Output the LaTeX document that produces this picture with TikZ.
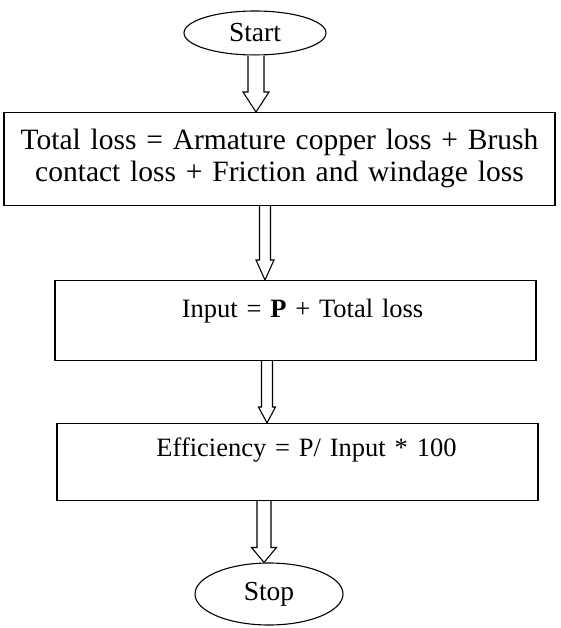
\documentclass[tikz,border=0pt]{standalone}
\usepackage{fontspec}
\setmainfont{Liberation Serif}
\usetikzlibrary{shapes.geometric,calc}
\tikzset{
  outline/.style={draw=black, line width=1.1pt},
  terminal/.style={outline, ellipse, inner sep=0pt, font=\fontsize{27.5}{32}\selectfont},
  stepbox/.style={outline, rectangle, inner xsep=0pt, inner ysep=0pt, align=center, font=\fontsize{26.5}{32}\selectfont},
  hollow/.style={draw=black, line width=1.1pt, fill=white, line join=miter}
}
\newcommand{\harrow}[5]{%
  \draw[hollow] ($#1+(-#3,0)$) -- ($#2+(-#3,-#5)$) -- ($#2+(-#4,-#5)$) -- #2
    -- ($#2+(#4,-#5)$) -- ($#2+(#3,-#5)$) -- ($#1+(#3,0)$);}
\begin{document}
\begin{tikzpicture}[x=1pt,y=-1pt]
\useasboundingbox (0,0) rectangle (560,628);
\node[terminal, minimum width=142pt, minimum height=44pt] (start) at (255,33) {Start};
\node[stepbox, anchor=north, text width=551pt, text height=37pt, text depth=56pt,
      font=\fontsize{29.5}{32}\selectfont] (box1) at (279.5,112)
  {Total loss = Armature copper loss + Brush\\contact loss + Friction and windage loss};
\node[stepbox, anchor=north, text width=481pt, text height=37pt, text depth=43pt] (box2) at (295.5,280)
  {\hspace*{14pt}Input = \textbf{P} + Total loss};
\node[stepbox, anchor=north, text width=481pt, text height=33pt, text depth=44pt] (box3) at (297.5,423)
  {\hspace*{18pt}Efficiency = P/ Input * 100};
\node[terminal, minimum width=148pt, minimum height=62pt] (stop) at (269,594) {Stop};
\coordinate (a1) at (256,0);
\coordinate (a2) at (265,0);
\coordinate (a3) at (267,0);
\coordinate (a4) at (264,0);
\harrow{(start.south -| a1)}{(box1.north -| a1)}{8}{13}{20}
\harrow{(box1.south -| a2)}{(box2.north -| a2)}{5.5}{9}{20}
\harrow{(box2.south -| a3)}{(box3.north -| a3)}{5.5}{8.5}{16}
\harrow{(box3.south -| a4)}{(stop.north -| a4)}{7}{12.5}{15}
\end{tikzpicture}
\end{document}
